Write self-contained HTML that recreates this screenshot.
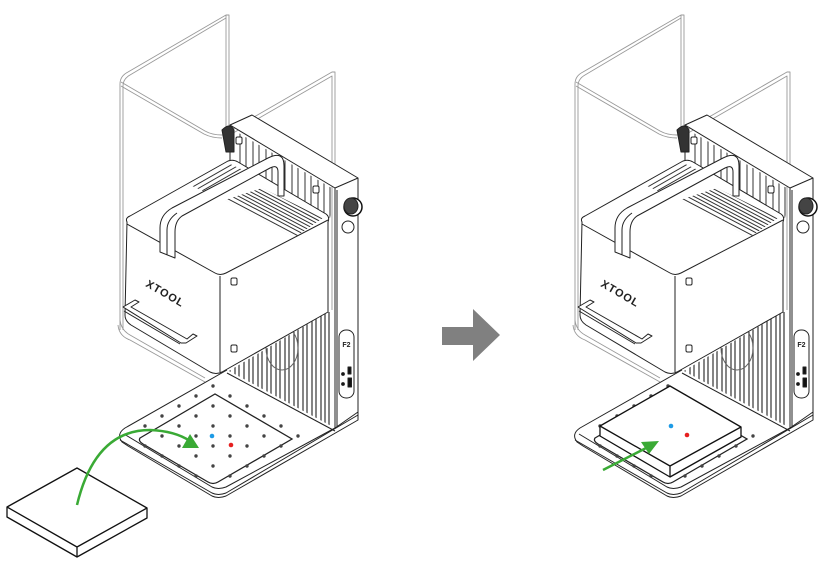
<!DOCTYPE html>
<html><head><meta charset="utf-8"><style>
html,body{margin:0;padding:0;background:#fff;}
svg{display:block;}
</style></head><body>
<svg width="832" height="565" viewBox="0 0 832 565" xmlns="http://www.w3.org/2000/svg">
<defs>
<clipPath id="slatclip"><polygon points="227,372 328,312 332,312 332,428 235,377"/></clipPath>
<clipPath id="slatclip2"><polygon points="232,129 335,190 330,218 238,163"/></clipPath>
<clipPath id="ventA"><polygon points="225,200 262,188 323,218 295,237"/></clipPath>
<clipPath id="ventB"><polygon points="190,185 228,163 243,170 205,192"/></clipPath>
<g id="D" fill="#444">
<circle cx="145" cy="426" r="1.7"/><circle cx="162" cy="416" r="1.7"/><circle cx="179" cy="406" r="1.7"/><circle cx="196" cy="396" r="1.7"/><circle cx="213" cy="386" r="1.7"/>
<circle cx="145" cy="446" r="1.7"/><circle cx="162" cy="436" r="1.7"/><circle cx="179" cy="426" r="1.7"/><circle cx="196" cy="416" r="1.7"/><circle cx="213" cy="406" r="1.7"/><circle cx="230" cy="396" r="1.7"/>
<circle cx="162" cy="456" r="1.7"/><circle cx="179" cy="446" r="1.7"/><circle cx="196" cy="436" r="1.7"/><circle cx="213" cy="426" r="1.7"/><circle cx="230" cy="416" r="1.7"/><circle cx="247" cy="406" r="1.7"/>
<circle cx="179" cy="466" r="1.7"/><circle cx="196" cy="456" r="1.7"/><circle cx="213" cy="446" r="1.7"/><circle cx="230" cy="436" r="1.7"/><circle cx="247" cy="426" r="1.7"/><circle cx="264" cy="416" r="1.7"/>
<circle cx="196" cy="476" r="1.7"/><circle cx="213" cy="466" r="1.7"/><circle cx="230" cy="456" r="1.7"/><circle cx="247" cy="446" r="1.7"/><circle cx="264" cy="436" r="1.7"/><circle cx="281" cy="426" r="1.7"/>
<circle cx="230" cy="476" r="1.7"/><circle cx="247" cy="466" r="1.7"/><circle cx="264" cy="456" r="1.7"/><circle cx="281" cy="446" r="1.7"/><circle cx="298" cy="436" r="1.7"/>
</g>
<g id="M" fill="none" stroke="#222" stroke-width="1" stroke-linejoin="round">
  <g stroke="#999" stroke-width="0.9">
    <path d="M120,330 L120,84 Q120,76 128,72 L226,15 L229,15 L229,140"/>
    <path d="M123,330 L123,86 Q123,79 130,75 L226,18"/>
    <path d="M121,82 L205,131 Q212,135 222,135 L226,135"/>
    <path d="M121,86 L204,134 Q212,138 222,138"/>
    <path d="M226,15 L226,140"/>
    <path d="M228,132 L332,72 L335,72 L335,310"/>
    <path d="M228,136 L332,76 L332,310"/>
    <path d="M120,320 Q121,330 130,335 L205,378"/>
    <path d="M118,325 Q119,336 130,340 L205,382"/>
  </g>
  <g clip-path="url(#slatclip2)" stroke="#333" stroke-width="1">
    <path d="M240,110V230M246,110V230M253,110V230M259,110V230M266,110V230M272,110V230M279,110V230M285,110V230M292,110V230M298,110V230M305,110V230M311,110V230M318,110V230M324,110V230M330,110V230"/>
  </g>
  <path d="M230,125 L252,115 L358,178 L335,188 Z" fill="#fff"/>
  <path d="M335,188 L335,430 M358,178 L358,420 M337,190 L337,430" />
  <path d="M230,125 L230,160"/>
  <path d="M222,130 Q230,122 234,130 L234,152 L226,152 Z" fill="#333" stroke="#222"/>
  <rect x="236" y="137" width="6" height="7" rx="1.5" fill="#fff"/>
  <rect x="313" y="186" width="6" height="7" rx="1.5" fill="#fff"/>
  <circle cx="353" cy="207" r="9" fill="#fff" stroke="#111" stroke-width="1.5"/>
  <ellipse cx="351" cy="206" rx="7" ry="8" fill="#444"/>
  <circle cx="348" cy="227" r="6" fill="#fff"/>
  <g clip-path="url(#slatclip)" stroke="#333" stroke-width="1.2">
    <path d="M230,300V440M235,300V440M239,300V440M244,300V440M249,300V440M253,300V440M258,300V440M262,300V440M267,300V440M271,300V440M276,300V440M280,300V440M285,300V440M289,300V440M294,300V440M298,300V440M303,300V440M307,300V440M312,300V440M316,300V440M321,300V440M325,300V440M329,300V440"/>
  </g>
  <ellipse cx="282" cy="348" rx="16" ry="22" stroke="#666" fill="none"/>
  <rect x="339" y="330" width="15" height="68" rx="7" fill="#fff"/>
  <text x="346.5" y="347" font-family="Liberation Sans, sans-serif" font-size="7" font-weight="bold" fill="#222" stroke="none" text-anchor="middle">F2</text>
  <rect x="348" y="367" width="3" height="7" fill="#111"/>
  <rect x="348" y="378" width="3.5" height="9" fill="#111"/>
  <circle cx="343" cy="374" r="1.4" fill="#111"/>
  <circle cx="343" cy="384" r="1.4" fill="#111"/>
  <path d="M127,222 Q125,218 130,216 L228,161 Q233,159 238,162 L326,214 Q330,217 328,222 L328,312 L222,372 Q216,375 210,372 L131,325 Q125,321 125,315 Z" fill="#fff"/>
  <path d="M127,224 L215,273 Q220,276 226,273 L328,220"/>
  <path d="M220,276 L220,372"/>
  <g clip-path="url(#ventA)" stroke="#333" stroke-width="1">
    <path d="M215,192 l110,58 M218,189 l110,58 M221,187 l110,58 M224,185 l110,58 M227,183 l110,58 M230,181 l110,58 M233,179 l110,58 M236,177 l110,58 M239,175 l110,58 M242,173 l110,58 M245,171 l110,58 M248,169 l110,58 M251,167 l110,58 M254,165 l110,58 M212,194 l110,58 M209,196 l110,58 M206,198 l110,58"/>
  </g>
  <g clip-path="url(#ventB)" stroke="#333" stroke-width="1">
    <path d="M180,180 l70,-40 M183,183 l70,-40 M186,186 l70,-40 M189,189 l70,-40 M192,192 l70,-40 M195,195 l70,-40 M198,198 l70,-40 M201,201 l70,-40"/>
  </g>
  <path d="M160,252 L160,228 Q160,215 172,208 L268,158 Q284,150 284,166 L284,196 L278,196 L278,172 Q278,164 270,168 L182,216 Q175,221 175,232 L175,258 Z" fill="#fff"/>
  <path d="M167,255 L167,230 Q167,220 177,213"/>
  <rect x="231" y="278" width="6" height="7" rx="1.5"/>
  <rect x="231" y="345" width="6" height="7" rx="1.5"/>
  <text x="0" y="0" transform="translate(145,286) rotate(30)" font-family="Liberation Sans, sans-serif" font-size="11" font-weight="bold" letter-spacing="1" fill="#222" stroke="none">XTOOL</text>
  <path d="M123,307 L135,300 L139,302 L131,307 L187,339 L193,334 L197,336 L186,343 L181,343 Z" fill="#fff"/>
  <path d="M124,311 L180,344"/>
  <path d="M227,370 L125,428 Q116,434 122,442 L128,446 L212,496 Q218,499 226,496 L358,420 L358,412 L335,428" fill="#fff"/>
  <path d="M124,434 L212,487 Q218,490 226,487 L335,428"/>
  <path d="M120,440 L212,493 Q218,496 226,493 L358,415"/>
  <path d="M227,373 L335,431"/>
</g>
</defs>

<use href="#M"/>
<use href="#M" x="455"/>

<path d="M140,438 L215,394 L292,439 L218,482 Q213,485 208,482 L143,444 Q138,441 140,438 Z" fill="none" stroke="#222" stroke-width="1.3"/>
<use href="#D"/>
<circle cx="212" cy="436" r="2.3" fill="#1e9be6"/>
<circle cx="231" cy="445" r="2.3" fill="#e62020"/>

<g fill="#fff" stroke="#111" stroke-width="1.3" stroke-linejoin="round">
  <path d="M7,507 L77,468 L147,508 L147,518 L77,557 L7,517 Z"/>
  <path d="M7,507 L77,547 L147,508 M77,547 L77,557" fill="none"/>
</g>
<path d="M77,505 Q95,430 150,430 Q175,431 190,441" fill="none" stroke="#3aaa35" stroke-width="2.5"/>
<polygon points="199,448 182,448 190,434" fill="#3aaa35"/>

<polygon points="442,327 473,327 473,309 500,335 473,361 473,345 442,345" fill="#808080"/>

<path d="M595,438 L670,394 L747,439 L673,482 Q668,485 663,482 L598,444 Q593,441 595,438 Z" fill="none" stroke="#222" stroke-width="1.3"/>
<use href="#D" x="455"/>
<g fill="#fff" stroke="#111" stroke-width="1.3" stroke-linejoin="round">
  <path d="M600,426 L670,386 L741,427 L741,437 L670,477 L600,436 Z"/>
  <path d="M600,426 L670,466 L741,427 M670,466 L670,477" fill="none"/>
</g>
<circle cx="671" cy="426" r="2.3" fill="#1e9be6"/>
<circle cx="687" cy="435" r="2.3" fill="#e62020"/>
<path d="M603,470 L650,446" stroke="#3aaa35" stroke-width="2.5"/>
<polygon points="659,441 641,442 649,454" fill="#3aaa35"/>
</svg>
</body></html>
